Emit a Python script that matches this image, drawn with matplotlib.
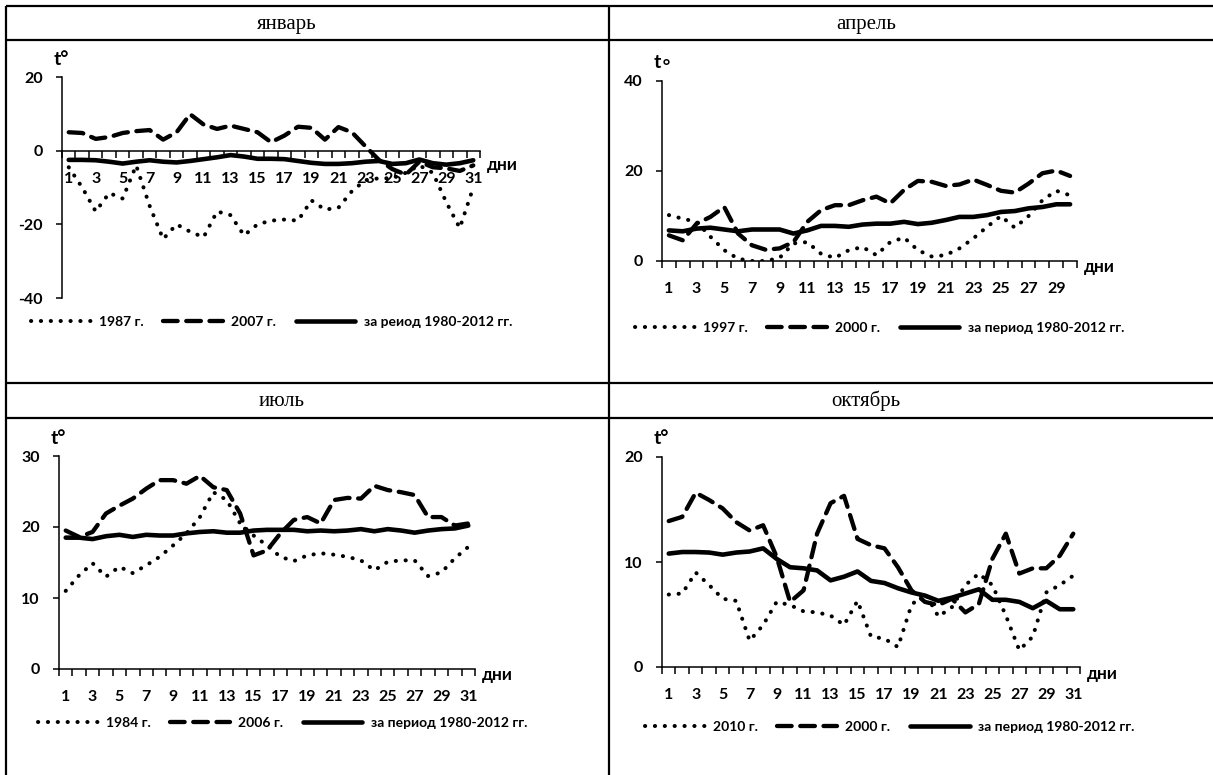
import numpy as np
import matplotlib.pyplot as plt

W, H = 1213, 775

days31 = np.arange(1, 32)
days30 = np.arange(1, 31)

# январь
jan_1987 = [-4.5, -10, -16.5, -11.5, -13, -4, -15, -24, -20, -22, -23.5, -16.5, -17.5, -23, -20, -19,
            -18.7, -19, -13.5, -16, -15.5, -11, -8, -7.5, -7.5, -6, -4, -6, -14, -21, -10]
jan_2007 = [5.0, 4.8, 3.2, 3.7, 4.8, 5.3, 5.6, 3.0, 5.0, 9.9, 7.1, 5.9, 6.8, 5.9, 5.0, 2.3, 4.1, 6.5,
            6.2, 3.0, 6.4, 5.0, 1.2, -2.5, -5.0, -6.5, -3.0, -4.5, -4.8, -5.5, -4.0]
jan_avg = [-2.5, -2.5, -2.6, -3.0, -3.5, -3.0, -2.6, -3.0, -3.2, -2.8, -2.3, -1.8, -1.2, -1.6, -2.2, -2.2,
           -2.3, -2.8, -3.3, -3.6, -3.6, -3.4, -3.0, -2.8, -3.6, -3.4, -2.4, -3.4, -3.8, -3.4, -2.6]

# апрель
apr_1997 = [10.2, 9.4, 8.7, 5.4, 2.4, 0.5, 0.0, 0.0, 0.7, 3.9, 4.2, 1.6, 0.7, 2.4, 3.1, 1.3, 4.2, 5.2,
            2.4, 1.0, 1.3, 2.8, 5.0, 7.6, 10.0, 7.4, 10.0, 13.5, 15.6, 14.6]
apr_2000 = [5.7, 4.6, 8.3, 9.8, 12.0, 6.1, 3.5, 2.5, 2.8, 4.2, 8.7, 11.3, 12.4, 12.4, 13.5, 14.3, 12.8,
            15.8, 17.8, 17.6, 16.7, 17.0, 18.1, 16.9, 15.6, 15.2, 17.2, 19.5, 20.1, 18.9]
apr_avg = [6.8, 6.6, 7.2, 7.4, 7.0, 6.6, 7.0, 7.0, 7.0, 6.1, 6.8, 7.8, 7.8, 7.6, 8.1, 8.3, 8.3, 8.7,
           8.2, 8.5, 9.1, 9.8, 9.8, 10.2, 10.9, 11.1, 11.7, 12.0, 12.6, 12.6]

# июль
jul_1984 = [11.0, 13.2, 14.9, 13.0, 14.4, 13.5, 14.6, 15.8, 17.4, 19.1, 21.4, 24.9, 23.8, 20.5, 18.8,
            17.4, 15.8, 15.2, 16.0, 16.3, 16.1, 15.8, 15.3, 13.9, 15.1, 15.3, 15.3, 13.1, 13.6, 15.6, 17.2]
jul_2006 = [19.5, 18.6, 19.3, 21.9, 23.0, 24.0, 25.4, 26.6, 26.6, 26.1, 27.2, 25.6, 25.2, 21.9, 16.0,
            16.7, 19.1, 21.0, 21.4, 20.5, 23.8, 24.1, 24.0, 25.8, 25.2, 24.9, 24.5, 21.4, 21.4, 20.2, 20.5]
jul_avg = [18.5, 18.5, 18.3, 18.7, 18.9, 18.6, 18.9, 18.8, 18.8, 19.1, 19.3, 19.4, 19.2, 19.2, 19.5,
           19.6, 19.6, 19.6, 19.4, 19.5, 19.4, 19.5, 19.7, 19.4, 19.7, 19.5, 19.2, 19.5, 19.7, 19.8, 20.2]

# октябрь
oct_2010 = [6.9, 7.0, 9.0, 7.8, 6.5, 6.3, 2.5, 4.0, 6.2, 5.9, 5.3, 5.2, 4.9, 4.0, 6.3, 2.9, 2.7, 1.9,
            5.9, 7.1, 4.8, 5.7, 7.8, 8.9, 7.8, 4.9, 1.6, 2.9, 7.1, 7.8, 8.7]
oct_2000 = [13.9, 14.3, 16.6, 15.9, 15.1, 13.8, 13.0, 13.5, 10.5, 6.2, 7.3, 12.7, 15.6, 16.3, 12.2, 11.6,
            11.3, 9.5, 7.3, 6.2, 5.9, 6.5, 5.2, 6.0, 10.3, 12.7, 8.9, 9.4, 9.4, 10.6, 12.7]
oct_avg = [10.8, 10.95, 10.95, 10.9, 10.7, 10.9, 11.0, 11.3, 10.3, 9.5, 9.4, 9.2, 8.25, 8.6, 9.1, 8.2,
           8.0, 7.5, 7.1, 6.8, 6.3, 6.6, 7.0, 7.4, 6.4, 6.4, 6.2, 5.6, 6.3, 5.5, 5.5]

plt.rcParams['font.family'] = ['Lato', 'DejaVu Sans']
plt.rcParams['axes.unicode_minus'] = False

fig = plt.figure(figsize=(W / 100, H / 100), dpi=100)

# table frame, drawn in pixel coordinates
bg = fig.add_axes([0, 0, 1, 1])
bg.set_xlim(0, W)
bg.set_ylim(H, 0)
bg.axis('off')
for x0, y0, x1, y1 in [(6, 6, W, 6), (6, 40, W, 40), (6, 383, W, 383), (6, 418, W, 418),
                       (6, 6, 6, H), (609, 6, 609, H)]:
    bg.plot([x0, x1], [y0, y1], color='black', lw=1.6, solid_capstyle='butt')
for txt, x, y in [('январь', 287, 24), ('апрель', 866, 24), ('июль', 282, 401), ('октябрь', 866, 401)]:
    bg.text(x, y, txt, family='Liberation Serif', fontsize=15, ha='center', va='center')


def box(x0, y0, x1, y1):
    return [x0 / W, 1 - y1 / H, (x1 - x0) / W, (y1 - y0) / H]


def panel(rect, days, dot, dash, avg, ylim, yticks, names, legend_xy, tlab, dni_dy):
    ax = fig.add_axes(box(*rect))
    n = len(days)
    ax.plot(days, dot, color='black', lw=2.9, ls=(0, (0.05, 2.4)), dash_capstyle='round', label=names[0])
    ax.plot(days, dash, color='black', lw=3.1, ls=(0, (3.4, 2.0)), dash_capstyle='round', label=names[1])
    ax.plot(days, avg, color='black', lw=3.3, solid_capstyle='round', label=names[2])
    ax.set_xlim(0.5, n + 0.5)
    ax.set_ylim(*ylim)
    ax.spines[['top', 'right']].set_visible(False)
    ax.spines['bottom'].set_position(('data', 0))
    for s in ['left', 'bottom']:
        ax.spines[s].set_linewidth(1.1)
    ax.set_xticks(days[::2])
    ax.set_xticks(np.arange(0.5, n + 1), minor=True)
    ax.tick_params(axis='x', which='major', length=0, pad=15, labelsize=11.5)
    ax.tick_params(axis='x', which='minor', length=5, width=1.1)
    ax.set_yticks(yticks)
    ax.tick_params(axis='y', length=4, width=1.1, pad=10, labelsize=11.5)
    for lab in ax.get_xticklabels() + ax.get_yticklabels():
        lab.set_fontweight('bold')
    ax.annotate('дни', xy=(n + 0.5, 0), xytext=(7, -dni_dy), textcoords='offset pixels',
                ha='left', va='center', fontsize=12.5, fontweight='bold')
    ax.annotate(tlab, xy=(0.5, ylim[1]), xytext=(-8, 18), textcoords='offset pixels',
                ha='left', va='center', fontsize=14, fontweight='bold')
    ax.legend(loc='center left', bbox_to_anchor=(legend_xy[0] / W, 1 - legend_xy[1] / H),
              bbox_transform=fig.transFigure, ncol=3, frameon=False, borderpad=0, borderaxespad=0,
              handlelength=4.3, handletextpad=0.6, columnspacing=1.4,
              prop={'size': 10, 'weight': 'bold'})
    return ax


panel((62, 77, 480, 298), days31, jan_1987, jan_2007, jan_avg, (-40, 20), [-40, -20, 0, 20],
      ['1987 г.', '2007 г.', 'за реиод 1980-2012 гг.'], (31, 322), 't°', 14)
panel((662, 81, 1077, 261), days30, apr_1997, apr_2000, apr_avg, (0, 40), [0, 20, 40],
      ['1997 г.', '2000 г.', 'за период 1980-2012 гг.'], (635, 328), 't∘', 6)
panel((59, 456, 475, 669), days31, jul_1984, jul_2006, jul_avg, (0, 30), [0, 10, 20, 30],
      ['1984 г.', '2006 г.', 'за период 1980-2012 гг.'], (38, 723), 't°', 6)
panel((662, 457, 1080, 667), days31, oct_2010, oct_2000, oct_avg, (0, 20), [0, 10, 20],
      ['2010 г.', '2000 г.', 'за период 1980-2012 гг.'], (645, 727), 't°', 7)

fig.savefig('out.png', dpi=100)
